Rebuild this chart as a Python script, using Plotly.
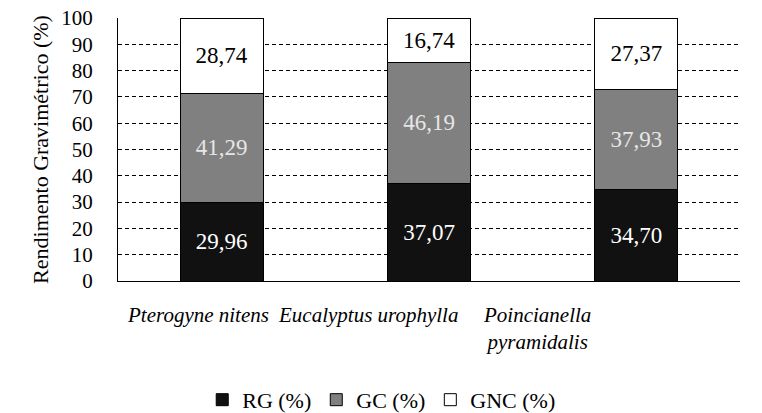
import plotly.graph_objects as go

categories = ["Pterogyne nitens", "Eucalyptus urophylla", "Poincianella<br>pyramidalis"]
rg = [29.96, 37.07, 34.70]
gc = [41.29, 46.19, 37.93]
gnc = [28.74, 16.74, 27.37]
series_names = ["RG (%)", "GC (%)", "GNC (%)"]

FONT = "Liberation Serif"
fills = ["#111111", "#808080", "#ffffff"]
txtcol = ["#ffffff", "#e6e6e6", "#000000"]

fig = go.Figure()
for name, vals, fc, tc in zip(series_names, [rg, gc, gnc], fills, txtcol):
    fig.add_trace(go.Bar(
        x=categories, y=vals, name=name,
        marker=dict(color=fc, line=dict(color="#000000", width=1)),
        texttemplate="%{y:.2f}", textposition="inside",
        insidetextanchor="middle",
        textfont=dict(family=FONT, size=23, color=tc),
        hoverinfo="skip",
    ))

xshifts = [-24, -61, -99]
for c, xs in zip(categories, xshifts):
    fig.add_annotation(x=c, y=0, xref="x", yref="paper", yanchor="top",
                       yshift=-20, xshift=xs, showarrow=False, text="<i>" + c + "</i>",
                       font=dict(family=FONT, size=21, color="#000000"))

fig.update_layout(
    barmode="stack", bargap=0.6,
    width=762, height=413,
    margin=dict(l=118, r=22, t=18, b=132, autoexpand=False),
    paper_bgcolor="white", plot_bgcolor="white",
    separators=", ",
    font=dict(family=FONT, size=20, color="#000000"),
    legend=dict(orientation="h", xref="paper", yref="paper",
                x=0.424, xanchor="center", y=-0.452, yanchor="middle",
                font=dict(family=FONT, size=22, color="#000000"), traceorder="normal"),
    showlegend=True,
)
fig.update_xaxes(showticklabels=False, showline=True, linecolor="#000000",
                 linewidth=1, showgrid=False, ticks="")
fig.update_yaxes(range=[0, 100], dtick=10, showgrid=True, gridcolor="#000000",
                 griddash="4px,3px", gridwidth=1, showline=True, linecolor="#000000",
                 linewidth=1, ticks="", ticklabelstandoff=20, zeroline=False,
                 tickfont=dict(family=FONT, size=21, color="#000000"),
                 title=dict(text="Rendimento Gravimétrico (%)", standoff=6,
                            font=dict(family=FONT, size=22, color="#000000")))

fig.write_html("out.html", post_script="document.body.style.margin='0';",
               config={"displayModeBar": False})
